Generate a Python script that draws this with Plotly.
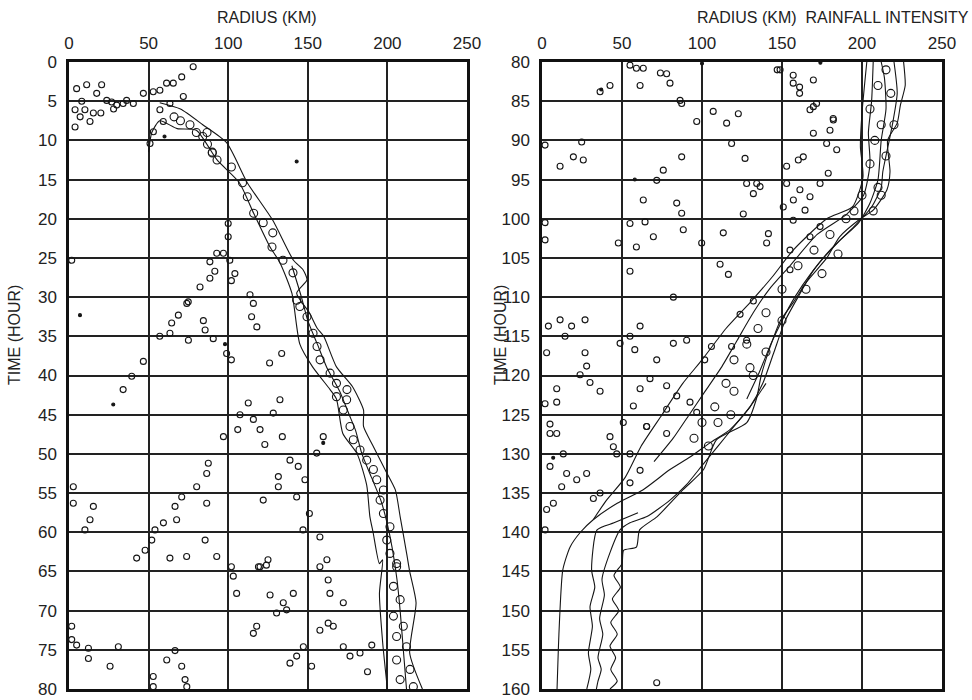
import plotly.graph_objects as go

# ---------------- left panel (time 0-80 h) ----------------
# outer (leading) edge of the outward-moving rainband
left_outer_r = [57, 70, 84, 99, 112, 128, 141, 147, 149.5, 143, 151, 156, 160, 168, 178, 185, 185, 191,
                198.5, 205, 208, 212, 214, 218, 214, 222]
left_outer_t = [5.2, 6.0, 8.0, 10.3, 15.4, 20.2, 25.3, 26.5, 27.8, 29.5, 32, 34, 35, 38.9, 41.4, 44.4,
                46.5, 49, 52, 54.6, 58, 62.6, 65, 69, 75.4, 80]
# second contour just inside the leading edge
left_second_r = [140, 146, 150, 156, 162, 170, 176, 180, 184, 190, 196, 200, 203, 206, 208, 210, 212]
left_second_t = [26, 30, 33, 36, 39, 42, 45, 47, 50, 53, 56, 59, 62, 66, 70, 75, 80]
# inner (trailing) edge of the same band
left_inner_r = [50, 52, 57, 68, 80, 93, 107, 116, 126, 132.5, 140, 145, 153, 164, 168, 172, 181, 187,
                189, 191, 195, 197, 195, 197, 200]
left_inner_t = [11.5, 9.0, 7.5, 8.5, 8.7, 12.5, 15.4, 19.3, 23.5, 25.6, 29.5, 36, 38.9, 41.8, 43, 47.4,
                50, 54, 58, 60, 64, 63.5, 67.8, 74, 80]
# cells embedded in the band
left_band_r = [66, 70, 76, 80, 84, 87, 90, 93, 86.7, 90, 102, 109, 112, 116, 122, 128, 127.5, 134.4,
               140.7, 143, 145, 149.5, 153.3, 155.8, 157.7, 164, 168, 174.6, 168, 174.4, 172.3, 176.5,
               178.6, 182.8, 187, 191.2, 193.3, 197.5, 195.4, 197.5, 201.6, 199.6, 201.6, 205.8, 205.8,
               203.8, 208, 203.8, 210, 205.8, 212, 205.8, 214.2, 208, 216.3]
left_band_t = [7, 7.5, 8, 9, 9.5, 10.5, 11.5, 12.5, 9, 11.6, 13.4, 15.4, 17.2, 19.3, 20.5, 21.8, 23.6,
               25.3, 26.9, 30.4, 31.2, 32.5, 34.6, 36.3, 38, 39.7, 41, 41.8, 42.7, 43.1, 44.4, 46.5,
               48.2, 49.5, 50.8, 52, 53.3, 54.6, 55.9, 57.6, 59.3, 61, 62.7, 64, 64.4, 66.9, 68.6,
               70.7, 72, 73.3, 74.6, 76.3, 77.5, 78.8, 79.7]
# isolated convective cells
left_cell_r = [78, 70.8, 65.5, 61.3, 57.1, 52.9, 46.7, 36.2, 26.8, 23.7, 17.4, 11.1, 4.8, 20.5, 3.8, 10,
               15.3, 3.8, 13.2, 40.4, 57.1, 63.4, 71.8, 59.2, 53, 50.9, 8, 30, 20, 7, 28, 34,
               100, 100, 92.8, 97, 101, 88.5, 91.6, 88.5, 104.2, 102, 82.3, 74.9, 113.7, 1.7,
               74, 68.7, 64.5, 84.4, 85.5, 57, 63.4, 75, 90.6, 46.7, 39.4, 34, 115.8, 114.7, 118,
               99, 102, 126, 133.6, 112.6, 107.4, 115.8, 120, 128.3, 132.5, 97, 106, 123, 134,
               159.7, 155.6, 138.8, 144, 87.5, 86.5, 131.5, 131.5, 148.2, 80.2, 70.8, 86.5, 66.6,
               67.6, 59.3, 54, 52, 47.8, 42.5, 63.4, 73.9, 85.5, 92.8, 122, 143, 151, 157.6, 147,
               125, 120, 102, 162, 2.7, 2.7, 15.3, 13.2, 10,
               103.2, 105.3, 124, 119, 126.3, 134.6, 130.4, 136.7, 140.9, 157.6, 162.8, 163.9,
               172.3, 157.6, 162.8, 166, 172.3, 176.5, 182.8, 190.2, 143, 147.2, 138.8, 187.5,
               152.4, 115.8, 117.9, 1.7, 1.7, 4.8, 12.2, 31, 25.8, 12.2, 66.6, 61.4, 70.8, 72.9,
               74, 52.9, 52.9]
left_cell_t = [0.6, 1.9, 2.7, 2.7, 3.6, 3.8, 4, 4.9, 5.1, 4.9, 4, 2.9, 3.4, 2.9, 6.1, 6.1,
               6.5, 8.3, 7.6, 5.3, 6.1, 5.3, 4.4, 7.6, 8.9, 10.4, 5, 5.5, 6.5, 7, 6, 5.3,
               20.6, 22.3, 24.4, 24.4, 25.3, 25.5, 26.7, 27.6, 27, 27.9, 28.7, 30.6, 29.7, 25.3,
               30.8, 32.3, 33.3, 33, 34.2, 35, 34.6, 35.5, 35.3, 38.2, 40.1, 41.8, 30.8, 32.5, 33.8,
               37.2, 38, 38.4, 37.2, 43.5, 45, 45.6, 46.9, 44.8, 43.1, 47.8, 46.9, 48.8, 47.8,
               47.8, 49.9, 50.8, 51.6, 51.2, 52.5, 52.9, 54.2, 53.3, 54.2, 55.5, 56.3, 56.7,
               58.4, 58.8, 59.7, 61, 62.3, 63.3, 63.3, 63.1, 61, 63.1, 55.9, 55.5, 57.6, 60.6, 59.7,
               63.5, 64.4, 64.4, 63.5, 54.2, 56.3, 56.7, 58.4, 59.7,
               65.6, 67.8, 64.2, 64.4, 68, 69, 70.3, 69.9, 67.8, 64.4, 66.1, 67.8,
               69, 72.5, 71.6, 72, 74.6, 75.8, 75.4, 74.4, 75.8, 74.6, 76.7, 77.8,
               77.1, 72.9, 72, 72, 73.7, 74.4, 74.8, 74.6, 77.1, 76.1, 75.1, 76.3, 77.1, 78.8,
               79.7, 78.4, 79.7]
left_dot_r = [143, 6.9, 27.8, 159.7, 98, 60]
left_dot_t = [12.7, 32.3, 43.7, 48.6, 36, 9.5]

# ---------------- right panel (time 80-160 h) ----------------
right_outer_r = [226, 227, 224, 222, 216, 217.5, 215.6, 207, 199, 186, 178, 165.6, 157, 149, 142, 137,
                 134, 128, 109, 101, 88, 72, 61, 59, 51, 50, 45, 49, 44, 48, 43, 47, 42.5, 46, 43, 47,
                 42.5]
right_outer_t = [80, 83, 85.5, 87.8, 90, 94, 96.3, 98.9, 100, 102.3, 105, 108, 110.7, 113, 116.7,
                 120, 123, 126, 128.2, 132, 134.6, 138, 139.7, 141.9, 142.3, 144, 145.5, 147, 148.5,
                 150, 151.5, 153, 154.5, 156, 157.5, 159, 160]
right_inner_r = [203, 200, 199, 200.6, 194, 178, 157, 144, 130, 115, 100, 88, 75, 62, 52, 40, 32]
right_inner_t = [80, 86.5, 90.8, 94.7, 98.5, 100, 104, 107.4, 110.7, 114, 118, 121, 125, 129, 133,
                 136, 138.4]
# smooth contour along the inner side of the collapsing band
right_front_r = [140, 130, 117.5, 105, 92.5, 80, 63, 47, 32, 24, 17.5, 13, 11, 10.2, 9.4]
right_front_t = [121, 124, 126.9, 128.6, 130.4, 132, 134.6, 136.3, 138.4, 140, 141.9, 144.8, 151,
                 155, 160]
right_mid_r = [212, 214, 215, 212, 210, 205, 198, 185, 170, 160, 152, 145, 138, 130, 120, 110, 100,
               90, 80, 65.6, 55, 48.8, 42.5, 37.5, 39, 36, 38, 35, 37, 35, 34]
right_mid_t = [80, 82, 86, 90, 95, 98, 100.5, 103, 106.5, 110, 113, 117, 121, 124, 126.5, 129,
               131.5, 134, 135.9, 138, 138.8, 139.7, 142.6, 146, 148, 151, 153, 156, 157.5, 159, 160]
right_low_r = [60, 45, 34.4, 31, 33, 30, 31.5, 29, 30.5, 28]
right_low_t = [137.5, 138.8, 139.7, 144.8, 147, 149.5, 152, 155.4, 157.5, 160]
# further intensity contours inside the band
right_band2_r = [220, 222, 219, 216, 213, 212, 206, 195, 180, 168, 158, 150, 143, 136, 128]
right_band2_t = [80, 84, 88, 91, 94, 96, 98.5, 101, 104, 107, 110, 113, 116, 119.5, 123]
right_band3_r = [207, 206, 204, 205, 201, 190, 172, 155, 142, 132, 122, 112, 102, 92, 82, 70]
right_band3_t = [80, 85, 89, 93, 97, 99.5, 102, 106, 109, 112, 115.5, 119, 122, 125, 128, 131]
right_band_r = [215, 210, 218, 205, 212, 208, 215, 205, 210, 200, 190, 180, 195, 170, 160, 150, 140,
                135, 128, 120, 115, 108, 100, 95, 130, 140, 120, 110, 220, 212, 207, 185, 175, 165,
                150, 132, 118, 104]
right_band_t = [81, 83, 84, 86, 88, 90, 92, 93, 96, 97, 100, 102, 99, 104, 106, 109, 112, 114, 116,
                118, 121, 124, 126, 128, 119, 117, 122, 126, 88, 97, 99, 104.5, 107, 109, 113, 120,
                125, 129]
right_cell_r = [42.5, 36.3, 61.3, 63.3, 55, 77.9, 80, 86.3, 87.3, 107, 96.7, 115.4, 122.7, 118.5,
                126.9, 134.2, 1.9, 11.3, 19.6, 24.8, 25.8, 71.7, 75.8, 87.3, 84.2, 63.3, 55, 64.4,
                69.6, 88.3, 87.3, 113.3, 99.8, 47.7, 59, 1.9, 1.9, 111.3, 116.5, 55, 82.1, 123.8,
                132.1, 11.3, 18.5, 26.9, 4, 14.4, 61.3, 55, 48.8, 58, 26.9, 27.9, 2.9, 23.8, 30,
                36.3, 71.7, 67.5, 82.1, 90.4, 105.9, 101.7, 118.5, 127.9, 9.2, 9.2, 1.9, 5, 77.9,
                84.2, 61.3, 57.1, 77.9, 92.5, 96.7, 50.8, 65.4,
                5, 9.2, 13.3, 15.4, 21.7, 27.9, 42.5, 44.6, 46.7, 55, 61.3, 55, 36.3, 32.1, 5, 2.9,
                7.1, 71.7, 1.9, 12.3, 65.4, 77.9,
                148.8, 157, 169.6, 161, 171.6, 167.5, 182.1, 180, 184.2, 177.9, 169.6, 163.3, 160.2,
                152.9, 152.9, 161.2, 167.5, 178.9, 173.8, 157.1, 164.4, 150.8, 141.5, 140.4, 157,
                155, 167.5, 173.8, 127.9, 136.3, 132.1, 125.8, 155, 59, 74, 147, 157, 161, 169.6,
                182]
right_cell_t = [83, 83.8, 83, 80.8, 80.4, 81.5, 82.7, 84.9, 85.3, 86.3, 87.6, 87.8, 86.6, 90.4,
                92.3, 95.5, 90.6, 93.3, 92.1, 90.2, 92.5, 95.1, 93.8, 92.1, 98, 97.6, 100.6, 100.4,
                102.3, 101.4, 99.3, 101.8, 103.1, 103.1, 103.6, 100.5, 102.7, 105.8, 107.1, 106.7,
                110, 112.2, 110.5, 112.9, 113.7, 112.9, 113.7, 115, 113.7, 115, 115.9, 116.7, 117.1,
                118.8, 117.1, 119.9, 120.9, 122, 118, 120.4, 115.9, 115.5, 116.3, 118, 116.3, 115.5,
                121.7, 123.4, 123.6, 126.2, 121.3, 122.6, 121.7, 123.9, 124.3, 123.4, 124.7, 126,
                126.5,
                127.4, 127.4, 130, 132.5, 133.3, 132.5, 127.8, 129.1, 130, 130, 132.1, 133.7, 135,
                135.7, 131.6, 137.1, 136.3, 159.2, 139.7, 134.2, 126.5, 127.4,
                81, 82.7, 82.3, 84, 85.3, 86.1, 87.4, 88.7, 91.2, 90.4, 89.1, 92.1, 92.5, 93.3,
                95.5, 96.3, 97.2, 94.2, 95.5, 97.6, 98.9, 98.5, 101.9, 103.1, 100.2, 104, 102.3,
                101, 95.5, 95.9, 96.8, 99.4, 106.5, 80.8, 81.4, 81, 81.7, 83.2, 85.7, 87.2]
right_dot_r = [174, 37, 58, 7, 100]
right_dot_t = [80.1, 83.5, 95, 130.5, 80.2]

x_ticks = [0, 50, 100, 150, 200, 250]

INK = "#151515"
fig = go.Figure()


def add_line(r, t, xa, ya, w=1.1):
    fig.add_trace(go.Scatter(x=r, y=t, mode="lines", xaxis=xa, yaxis=ya,
                             line=dict(color=INK, width=w, shape="spline", smoothing=0.6),
                             hoverinfo="skip", showlegend=False))


def add_cells(r, t, xa, ya, size, sym="circle-open"):
    fig.add_trace(go.Scatter(x=r, y=t, mode="markers", xaxis=xa, yaxis=ya,
                             marker=dict(symbol=sym, size=size, color=INK, line=dict(width=1.1, color=INK)),
                             hoverinfo="skip", showlegend=False))


# left panel
add_line(left_outer_r, left_outer_t, "x", "y")
add_line(left_second_r, left_second_t, "x", "y")
add_line(left_inner_r, left_inner_t, "x", "y")
add_cells(left_band_r, left_band_t, "x", "y", 8)
add_cells(left_cell_r, left_cell_t, "x", "y", 6)
add_cells(left_dot_r, left_dot_t, "x", "y", 3, "circle")

# right panel
add_line(right_outer_r, right_outer_t, "x2", "y2")
add_line(right_inner_r, right_inner_t, "x2", "y2")
add_line(right_front_r, right_front_t, "x2", "y2")
add_line(right_mid_r, right_mid_t, "x2", "y2")
add_line(right_low_r, right_low_t, "x2", "y2")
add_line(right_band2_r, right_band2_t, "x2", "y2")
add_line(right_band3_r, right_band3_t, "x2", "y2")
add_cells(right_band_r, right_band_t, "x2", "y2", 8)
add_cells(right_cell_r, right_cell_t, "x2", "y2", 6)
add_cells(right_dot_r, right_dot_t, "x2", "y2", 3, "circle")

FONT = dict(family="Liberation Sans, Arial, sans-serif", size=17, color="#222")
TFONT = dict(family="Liberation Sans, Arial, sans-serif", size=16, color="#222")

xcommon = dict(range=[0, 250], tickvals=x_ticks, side="top", showgrid=True, gridcolor="#222",
               gridwidth=2, zeroline=False, showline=True, mirror=True, linecolor="#111",
               linewidth=2.5, ticks="", tickfont=FONT, ticklabelstandoff=3, fixedrange=True,
               automargin=False)
ycommon = dict(dtick=5, showgrid=True, gridcolor="#222", gridwidth=2, zeroline=False,
               showline=True, mirror=True, linecolor="#111", linewidth=2.5, ticks="",
               tickfont=FONT, ticklabelstandoff=6, fixedrange=True, automargin=False)

fig.update_layout(
    width=972, height=700,
    margin=dict(l=0, r=0, t=0, b=0, pad=0, autoexpand=False),
    paper_bgcolor="white", plot_bgcolor="white",
    xaxis=dict(domain=[69 / 972, 467 / 972], anchor="y", **xcommon),
    yaxis=dict(domain=[11 / 700, 638 / 700], range=[80, 0], anchor="x", tick0=0, **ycommon),
    xaxis2=dict(domain=[542 / 972, 942 / 972], anchor="y2", **xcommon),
    yaxis2=dict(domain=[11 / 700, 638 / 700], range=[160, 80], anchor="x2", tick0=80, **ycommon),
    annotations=[
        dict(text="RADIUS (KM)", x=267 / 972, y=682 / 700, xref="paper", yref="paper",
             xanchor="center", yanchor="middle", showarrow=False, font=TFONT),
        dict(text="RADIUS (KM)\u00a0\u00a0RAINFALL INTENSITY", x=971 / 972, y=682 / 700,
             xref="paper", yref="paper", xanchor="right", yanchor="middle", showarrow=False,
             font=TFONT),
        dict(text="TIME (HOUR)", x=14 / 972, y=365 / 700, xref="paper", yref="paper",
             xanchor="center", yanchor="middle", textangle=-90, showarrow=False, font=TFONT),
        dict(text="TIME (HOUR)", x=500 / 972, y=365 / 700, xref="paper", yref="paper",
             xanchor="center", yanchor="middle", textangle=-90, showarrow=False, font=TFONT),
    ],
)

fig.write_html("out.html")
